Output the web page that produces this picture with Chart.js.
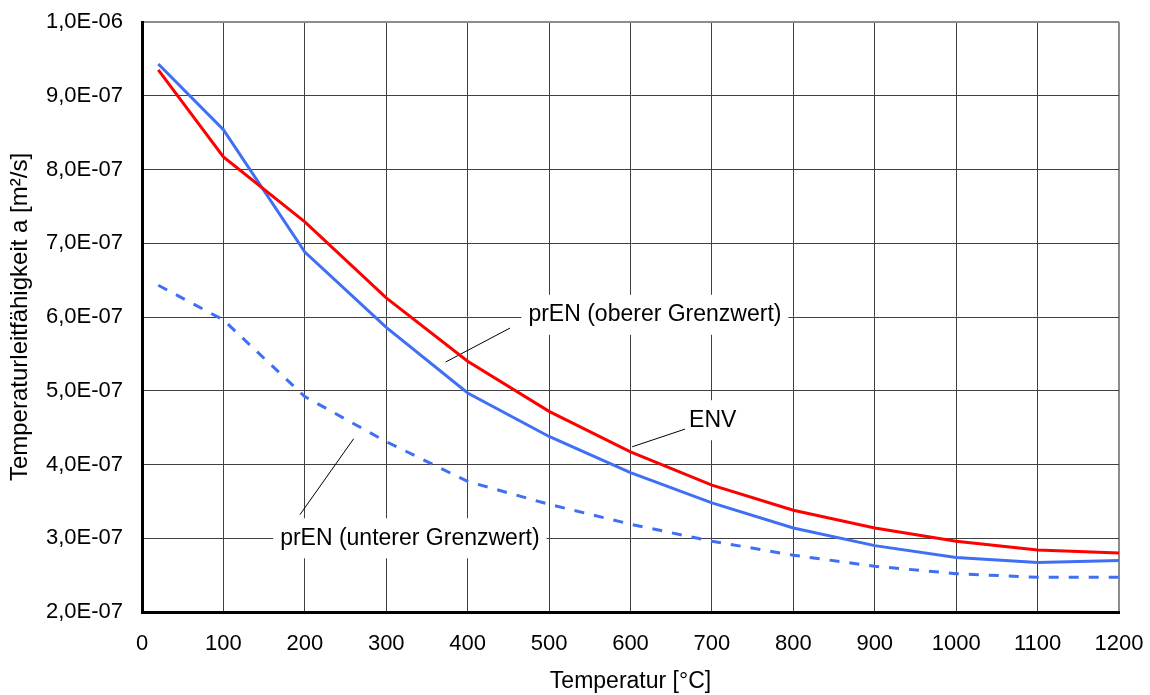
<!DOCTYPE html>
<html lang="de">
<head>
  <meta charset="UTF-8">
  <title>Temperaturleitfähigkeit</title>
  <style>
    body {
      margin: 0;
      background: #ffffff;
      font-family: "Liberation Sans", Arial, sans-serif;
    }
    #chartBox {
      width: 1150px;
      height: 695px;
    }
  </style>
  <script src="https://cdn.jsdelivr.net/npm/chart.js"></script>
</head>
<body>
  <div id="chartBox">
    <canvas id="diffChart"></canvas>
  </div>

  <script>
    // Temperatur in °C
    var temps = [20, 100, 200, 300, 400, 500, 600, 700, 800, 900, 1000, 1100, 1200];

    // Temperaturleitfähigkeit a in m²/s
    var envValues = [9.35e-7, 8.17e-7, 7.29e-7, 6.26e-7, 5.40e-7, 4.72e-7, 4.17e-7,
                     3.72e-7, 3.38e-7, 3.14e-7, 2.96e-7, 2.84e-7, 2.80e-7];
    var prenUpper = [9.43e-7, 8.54e-7, 6.88e-7, 5.86e-7, 4.97e-7, 4.38e-7, 3.89e-7,
                     3.48e-7, 3.14e-7, 2.90e-7, 2.74e-7, 2.67e-7, 2.70e-7];
    var prenLower = [6.43e-7, 5.96e-7, 4.92e-7, 4.31e-7, 3.77e-7, 3.46e-7, 3.19e-7,
                     2.96e-7, 2.77e-7, 2.62e-7, 2.52e-7, 2.47e-7, 2.47e-7];

    var xTicks = [0, 100, 200, 300, 400, 500, 600, 700, 800, 900, 1000, 1100, 1200];
    var yTicks = [2e-7, 3e-7, 4e-7, 5e-7, 6e-7, 7e-7, 8e-7, 9e-7, 1e-6];

    // Beschriftungen im Diagramm: Textposition und Hinweislinie (in Achsenwerten)
    var notes = [
      { text: 'prEN (oberer Grenzwert)', x: 630, y: 6.03e-7, from: [452, 5.85e-7], to: [373, 5.39e-7] },
      { text: 'ENV', x: 701, y: 4.60e-7, from: [667, 4.48e-7], to: [602, 4.24e-7] },
      { text: 'prEN (unterer Grenzwert)', x: 329, y: 3.0e-7, from: [260, 4.35e-7], to: [194, 3.32e-7] }
    ];

    var FONT = '"Liberation Sans", Arial, sans-serif';

    function toPoints(values) {
      return values.map(function (v, i) { return { x: temps[i], y: v }; });
    }

    // 1,0E-06 style
    function sciLabel(v) {
      var e = Math.floor(Math.log10(v) + 1e-9);
      var m = v / Math.pow(10, e);
      var sign = e < 0 ? '-' : '+';
      return m.toFixed(1).replace('.', ',') + 'E' + sign + String(Math.abs(e)).padStart(2, '0');
    }

    var notesPlugin = {
      id: 'notes',
      beforeDatasetsDraw: function (chart) {
        var ctx = chart.ctx;
        var xs = chart.scales.x, ys = chart.scales.y;
        ctx.save();
        ctx.font = '23px ' + FONT;
        ctx.textAlign = 'center';
        ctx.textBaseline = 'middle';
        notes.forEach(function (n) {
          var px = xs.getPixelForValue(n.x);
          var py = ys.getPixelForValue(n.y);
          var w = ctx.measureText(n.text).width + 14;
          var h = 40;
          ctx.fillStyle = '#ffffff';
          ctx.fillRect(px - w / 2, py - h / 2, w, h);

          ctx.strokeStyle = '#000000';
          ctx.lineWidth = 1;
          ctx.beginPath();
          ctx.moveTo(xs.getPixelForValue(n.from[0]), ys.getPixelForValue(n.from[1]));
          ctx.lineTo(xs.getPixelForValue(n.to[0]), ys.getPixelForValue(n.to[1]));
          ctx.stroke();

          ctx.fillStyle = '#000000';
          ctx.fillText(n.text, px, py);
        });
        ctx.restore();
      }
    };

    Chart.defaults.font.family = FONT;
    Chart.defaults.font.size = 22;
    Chart.defaults.color = '#000000';

    function gridColor(ctx) {
      return ctx.index === ctx.scale.ticks.length - 1 ? '#8c8c8c' : '#404040';
    }
    function gridWidth(ctx) {
      return ctx.index === ctx.scale.ticks.length - 1 ? 2 : 1;
    }

    var chart = new Chart(document.getElementById('diffChart'), {
      type: 'line',
      data: {
        datasets: [
          {
            label: 'ENV',
            data: toPoints(envValues),
            borderColor: '#ff0000',
            borderWidth: 3,
            pointRadius: 0,
            tension: 0
          },
          {
            label: 'prEN (oberer Grenzwert)',
            data: toPoints(prenUpper),
            borderColor: '#3f6ff2',
            borderWidth: 3,
            pointRadius: 0,
            tension: 0
          },
          {
            label: 'prEN (unterer Grenzwert)',
            data: toPoints(prenLower),
            borderColor: '#3f6ff2',
            borderWidth: 3,
            borderDash: [10, 10],
            pointRadius: 0,
            tension: 0
          }
        ]
      },
      options: {
        responsive: true,
        maintainAspectRatio: false,
        animation: false,
        layout: { padding: 0 },
        plugins: {
          legend: { display: false },
          tooltip: { enabled: false }
        },
        scales: {
          x: {
            type: 'linear',
            min: 0,
            max: 1200,
            afterBuildTicks: function (scale) {
              scale.ticks = xTicks.map(function (v) { return { value: v }; });
            },
            afterFit: function (scale) {
              scale.height = 83;
              scale.paddingLeft = 0;
              scale.paddingRight = 31;
            },
            ticks: {
              padding: 19,
              maxRotation: 0,
              callback: function (v) { return String(v); }
            },
            grid: { color: gridColor, lineWidth: gridWidth, drawTicks: false },
            border: { display: true, color: '#000000', width: 3 },
            title: {
              display: true,
              text: 'Temperatur [°C]',
              font: { size: 23 },
              padding: { top: 0, bottom: 0 }
            }
          },
          y: {
            type: 'linear',
            min: 2e-7,
            max: 1e-6,
            afterBuildTicks: function (scale) {
              scale.ticks = yTicks.map(function (v) { return { value: v }; });
            },
            afterFit: function (scale) {
              scale.width = 142;
              scale.paddingTop = 22;
              scale.paddingBottom = 0;
            },
            ticks: {
              padding: 19,
              callback: function (v) { return sciLabel(v); }
            },
            grid: { color: gridColor, lineWidth: gridWidth, drawTicks: false },
            border: { display: true, color: '#000000', width: 3 },
            title: {
              display: true,
              text: 'Temperaturleitfähigkeit a [m²/s]',
              font: { size: 24 },
              padding: { top: 6, bottom: 0 }
            }
          }
        }
      },
      plugins: [notesPlugin]
    });
  </script>
</body>
</html>
